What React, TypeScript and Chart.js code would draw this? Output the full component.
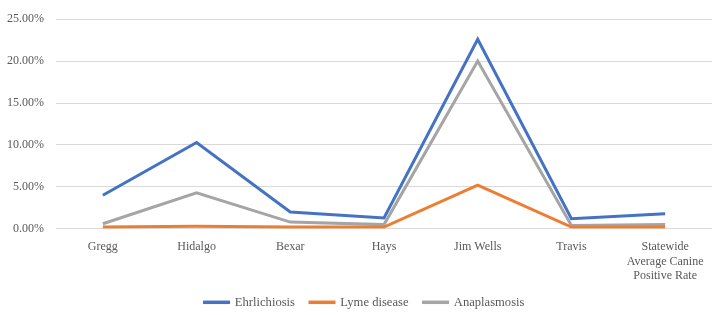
import React, { useEffect, useRef } from "react";
import { Chart, registerables } from "chart.js";

Chart.register(...registerables);

const categories: (string | string[])[] = [
  "Gregg",
  "Hidalgo",
  "Bexar",
  "Hays",
  "Jim Wells",
  "Travis",
  ["Statewide", "Average Canine", "Positive Rate"],
];
const ehrlichiosis = [0.040, 0.103, 0.020, 0.013, 0.226, 0.012, 0.018];
const lymeDisease = [0.002, 0.003, 0.002, 0.002, 0.052, 0.002, 0.002];
const anaplasmosis = [0.006, 0.043, 0.008, 0.005, 0.200, 0.004, 0.005];
const seriesNames = ["Ehrlichiosis", "Lyme disease", "Anaplasmosis"];

const FONT = "'Liberation Serif', 'DejaVu Serif', serif";
const TEXT = "#595959";

const legendFix = {
  id: "legendFix",
  beforeInit(chart: any) {
    const legend = chart.legend;
    if (legend) {
      const orig = legend.fit.bind(legend);
      legend.fit = function () {
        orig();
        this.height = 21;
      };
    }
  },
  afterLayout(chart: any) {
    if (chart.legend) {
      chart.legend.top -= 13;
      chart.legend.left += 17;
    }
  },
};

export default function App() {
  const ref = useRef<HTMLCanvasElement | null>(null);
  useEffect(() => {
    document.body.style.margin = "0";
    const ctx = ref.current!;
    const chart = new Chart(ctx, {
      type: "line",
      data: {
        labels: categories,
        datasets: [
          { label: seriesNames[0], data: ehrlichiosis, borderColor: "#4472C4", backgroundColor: "#4472C4" },
          { label: seriesNames[1], data: lymeDisease, borderColor: "#ED7D31", backgroundColor: "#ED7D31" },
          { label: seriesNames[2], data: anaplasmosis, borderColor: "#A5A5A5", backgroundColor: "#A5A5A5" },
        ].map((d) => ({ ...d, borderWidth: 3, pointRadius: 0, tension: 0, fill: false })),
      },
      plugins: [legendFix],
      options: {
        animation: false,
        responsive: false,
        layout: { padding: { left: 0, right: 9, top: 12, bottom: 0 } },
        plugins: {
          tooltip: { enabled: false },
          legend: {
            position: "bottom",
            labels: {
              boxWidth: 24,
              boxHeight: 0.5,
              padding: 15,
              color: TEXT,
              font: { family: FONT, size: 12.6 },
            },
          },
        },
        scales: {
          x: {
            offset: true,
            grid: { display: false, drawTicks: false },
            border: { display: false },
            ticks: {
              color: TEXT,
              font: { family: FONT, size: 12, lineHeight: 1.2 },
              padding: 11,
              maxRotation: 0,
              autoSkip: false,
            },
          },
          y: {
            min: 0,
            max: 0.25,
            afterFit: (scale: any) => {
              scale.width = 56;
            },
            grid: { color: "#D9D9D9", drawTicks: false, lineWidth: 1 },
            border: { display: false },
            ticks: {
              stepSize: 0.05,
              color: TEXT,
              padding: 12,
              font: { family: FONT, size: 12 },
              callback: (v: any) => (Number(v) * 100).toFixed(2) + "%",
            },
          },
        },
      },
    });
    return () => chart.destroy();
  }, []);
  return <canvas ref={ref} width={721} height={315} style={{ display: "block" }} />;
}
